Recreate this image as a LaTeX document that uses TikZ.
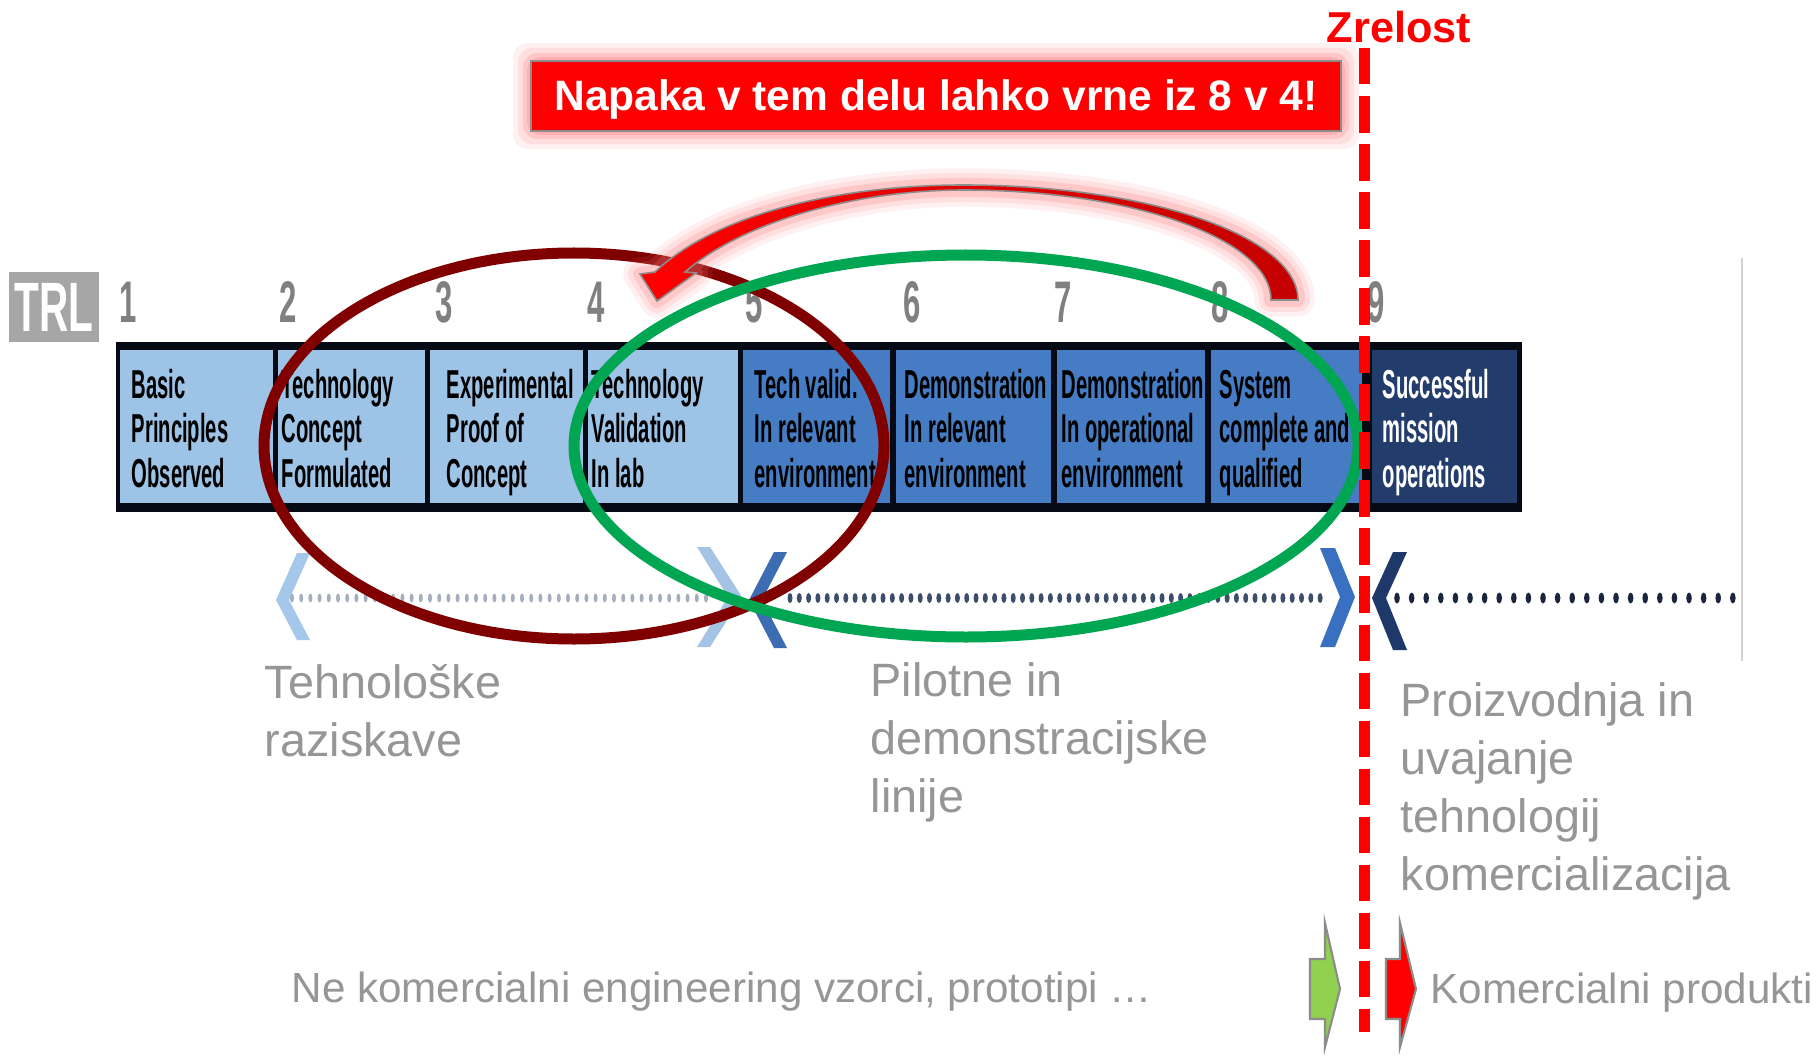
\documentclass[tikz,border=0pt]{standalone}
\usepackage{fontspec}
\setmainfont{Liberation Sans}
\newfontfamily\cellfont{Liberation Sans}[FakeStretch=0.5]
\newfontfamily\numfont{Liberation Sans}[FakeStretch=0.53]
\newfontfamily\trlfont{Liberation Sans}[FakeStretch=0.58]
\definecolor{lightcell}{RGB}{157,195,230}
\definecolor{midcell}{RGB}{70,124,196}
\definecolor{darkcell}{RGB}{34,60,108}
\definecolor{barblack}{RGB}{6,10,20}
\definecolor{trlgray}{RGB}{166,166,166}
\definecolor{numgray}{RGB}{128,128,128}
\definecolor{txtgray}{RGB}{150,150,150}
\definecolor{ellred}{RGB}{128,0,0}
\definecolor{ellgreen}{RGB}{0,166,81}
\definecolor{arrowdark}{RGB}{196,0,0}
\definecolor{glowred}{RGB}{255,120,120}
\definecolor{boxborder}{RGB}{140,140,140}
\definecolor{blockgreen}{RGB}{146,208,80}
\definecolor{dotA}{RGB}{165,175,188}
\definecolor{dotB}{RGB}{60,78,108}
\definecolor{dotC}{RGB}{25,38,62}
\definecolor{chevA}{RGB}{150,190,230}
\definecolor{chevB}{RGB}{150,185,225}
\definecolor{chevC}{RGB}{60,108,178}
\definecolor{chevD}{RGB}{58,112,194}
\definecolor{chevE}{RGB}{30,56,105}
\tikzset{
  numstyle/.style={font=\numfont\bfseries\fontsize{16.7}{17}\selectfont, text=numgray, anchor=base, inner sep=0},
  celltext/.style={font=\cellfont\bfseries\fontsize{11.5}{12}\selectfont, anchor=base west, inner sep=0},
  graytext/.style={font=\fontsize{13.3}{15}\selectfont, text=txtgray, anchor=base west, inner sep=0},
  smallgray/.style={font=\fontsize{12}{14}\selectfont, text=txtgray, anchor=base west, inner sep=0},
  ellline/.style={line width=3.13pt},
  blockarrow/.style={draw=boxborder, line width=0.6pt, line join=miter},
}
\def\arrowpath{(1298,300) .. controls (1298,236) and (1148,185) .. (963,185) .. controls (850,185) and (720,210) .. (655,272) -- (640,274) -- (657,301) -- (696,273) -- (685,272) .. controls (745,220) and (860,190) .. (963,190) .. controls (1133,190) and (1271,239) .. (1271,300) -- cycle}
\begin{document}
\begin{tikzpicture}[x=0.1mm,y=-0.1mm]
\useasboundingbox (0,0) rectangle (1818,1056);
\fill[white] (0,0) rectangle (1818,1056);

% TRL label
\fill[trlgray] (9,272) rectangle (99,342);
\node[font=\trlfont\bfseries\fontsize{19.9}{20}\selectfont, text=white, anchor=base, inner sep=0] (trl) at (54,332) {TRL};

% numbers
\foreach \n/\x in {1/128,2/288,3/444,4/596,5/754,6/912,7/1063,8/1220,9/1376}
  \node[numstyle] (num\n) at (\x,322) {\n};

% bar and cells
\fill[barblack] (116,342) rectangle (1522,512);
\foreach \i/\l/\r/\x/\a/\b/\c/\col/\fc in {
1/120/273/131/Basic/Principles/Observed/black/lightcell,
2/278/425/281/Technology/Concept/Formulated/black/lightcell,
3/430/583/446/Experimental/Proof of/Concept/black/lightcell,
4/588/738/591/Technology/Validation/In lab/black/lightcell,
5/743/890/754/Tech valid./In relevant/environment/black/midcell,
6/896/1051/904/Demonstration/In relevant/environment/black/midcell,
7/1057/1205/1061/Demonstration/In operational/environment/black/midcell,
8/1211/1362/1219/System/complete and/qualified/black/midcell,
9/1372/1517/1382/Successful/mission/operations/white/darkcell}{
  \fill[\fc] (\l,350) rectangle (\r,503);
  \node[celltext, text=\col] (cell\i-1) at (\x,398) {\a};
  \node[celltext, text=\col] (cell\i-2) at (\x,442) {\b};
  \node[celltext, text=\col] (cell\i-3) at (\x,487) {\c};
}

% thin grey line at right
\draw[gray!35, line width=0.5pt] (1742,258) -- (1742,661);

% dotted timeline
\foreach \i in {0,...,45} \fill[dotA] ({292+\i*9.2},598) ellipse [x radius=2, y radius=4.5];
\foreach \i in {0,...,57} \fill[dotB] ({790+\i*9.3},598) ellipse [x radius=2.5, y radius=5];
\foreach \i in {0,...,23} \fill[dotC] ({1397+\i*14.6},598) ellipse [x radius=2.8, y radius=5.5];

% chevrons
\fill[chevA, opacity=0.85] (310,553) -- (297,553) -- (276,600) -- (297,640) -- (310,640) -- (289,600) -- cycle;
\fill[chevB, opacity=0.85] (697,547) -- (710,547) -- (742,597) -- (710,647) -- (697,647) -- (728,597) -- cycle;
\fill[chevC] (787,552) -- (774,552) -- (749,600) -- (774,648) -- (787,648) -- (762,600) -- cycle;
\fill[chevD] (1320,548) -- (1335,548) -- (1355,597) -- (1335,647) -- (1320,647) -- (1340,597) -- cycle;
\fill[chevE] (1407,552) -- (1393,552) -- (1372,598) -- (1393,650) -- (1407,650) -- (1386,598) -- cycle;

% ellipses
\draw[ellred, ellline] (574,446) ellipse [x radius=310, y radius=193];
\draw[ellgreen, ellline] (966,446) ellipse [x radius=392, y radius=191];

% curved red arrow with glow
\foreach \w/\o in {9.5/0.10, 6.8/0.14, 4.0/0.22} \draw[glowred, opacity=\o, line width=\w pt, line join=round] \arrowpath;
\shadedraw[left color=red, right color=arrowdark, draw=boxborder, line width=0.45pt, line join=miter] \arrowpath;

% red message box with glow
\foreach \g/\o in {18/0.10, 13/0.15, 8/0.22, 4/0.30}
  \fill[glowred, opacity=\o, rounded corners=4pt] (531-\g,61-\g) rectangle (1341+\g,131+\g);
\fill[red] (531,61) rectangle (1341,131);
\draw[boxborder, line width=0.7pt] (531,61) rectangle (1341,131);
\node[font=\bfseries\fontsize{12.1}{14}\selectfont, text=white, anchor=base, inner sep=0] (napaka) at (936,111) {Napaka v tem delu lahko vrne iz 8 v 4!};

% Zrelost label and dashed line
\node[font=\bfseries\fontsize{12.3}{14}\selectfont, text=red, anchor=base, inner sep=0] (zrelost) at (1399,43) {Zrelost};
\coordinate (zrtop) at (1364.5,48);
\coordinate (zrbot) at (1364.5,1032);
\draw[red, line width=3.13pt, dash pattern=on 10.38pt off 3.29pt] (zrtop) -- (zrbot);

% grey texts
\node[graytext] (teh1) at (264,698) {Tehnološke};
\node[graytext] (teh2) at (264,756) {raziskave};
\node[graytext] (pil1) at (870,696) {Pilotne in};
\node[graytext] (pil2) at (870,754) {demonstracijske};
\node[graytext] (pil3) at (870,812) {linije};
\node[graytext] (pro1) at (1400,716) {Proizvodnja in};
\node[graytext] (pro2) at (1400,774) {uvajanje};
\node[graytext] (pro3) at (1400,832) {tehnologij};
\node[graytext] (pro4) at (1400,890) {komercializacija};
\node[smallgray] (nekom) at (291,1002) {Ne komercialni engineering vzorci, prototipi …};
\node[smallgray] (komprod) at (1430,1003) {Komercialni produkti};

% block arrows
\filldraw[blockgreen, blockarrow] (1310,959) -- (1325,959) -- (1325,923) -- (1340,989) -- (1325,1047) -- (1325,1019) -- (1310,1019) -- cycle;
\filldraw[red, blockarrow] (1386,959) -- (1400,959) -- (1400,923) -- (1416,989) -- (1400,1047) -- (1400,1019) -- (1386,1019) -- cycle;
\end{tikzpicture}
\end{document}
